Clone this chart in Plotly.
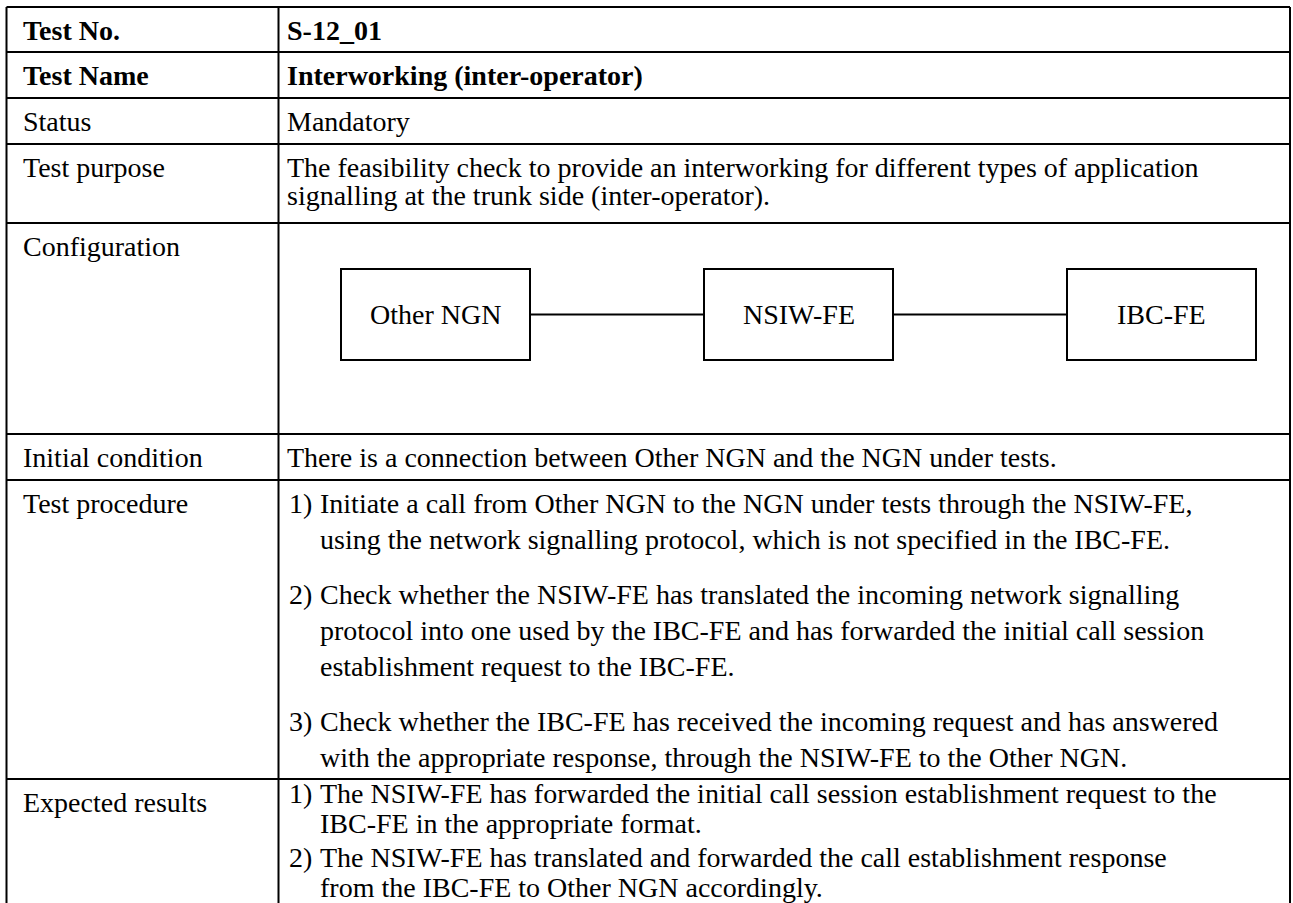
import plotly.graph_objects as go

# ---------------- data ----------------
row_labels = ["Test No.", "Test Name", "Status", "Test purpose", "Configuration",
              "Initial condition", "Test procedure", "Expected results"]
bold_labels = [True, True, False, False, False, False, False, False]

test_no = "S-12_01"
test_name = "Interworking (inter-operator)"
status = "Mandatory"
purpose_lines = ["The feasibility check to provide an interworking for different types of application",
                 "signalling at the trunk side (inter-operator)."]
config_nodes = ["Other NGN", "NSIW-FE", "IBC-FE"]
initial_condition = "There is a connection between Other NGN and the NGN under tests."
procedure_steps = [
    ["Initiate a call from Other NGN to the NGN under tests through the NSIW-FE,",
     "using the network signalling protocol, which is not specified in the IBC-FE."],
    ["Check whether the NSIW-FE has translated the incoming network signalling",
     "protocol into one used by the IBC-FE and has forwarded the initial call session",
     "establishment request to the IBC-FE."],
    ["Check whether the IBC-FE has received the incoming request and has answered",
     "with the appropriate response, through the NSIW-FE to the Other NGN."],
]
expected_steps = [
    ["The NSIW-FE has forwarded the initial call session establishment request to the",
     "IBC-FE in the appropriate format."],
    ["The NSIW-FE has translated and forwarded the call establishment response",
     "from the IBC-FE to Other NGN accordingly."],
]

# ---------------- layout geometry ----------------
W, H = 1293, 903
FONT = "Liberation Serif"
FS = 28
TOP_PAD = 33       # row top -> first baseline
row_edges = [7, 52, 98, 144, 223, 434, 480, 779, 920]
col_x = [6.5, 278.5, 1290]
LBL_X = 21
VAL_X = 285
NUM_X = 287
HANG_X = 318

fig = go.Figure()
shapes = []
annots = []

def txt(x, baseline, s, bold=False, anchor="left", size=FS):
    t = f"<b>{s}</b>" if bold else s
    annots.append(dict(x=x, y=baseline - 0.34 * size, xref="x", yref="y", text=t,
                       showarrow=False, xanchor=anchor, yanchor="middle",
                       font=dict(family=FONT, size=size, color="#000000")))

def line(x0, y0, x1, y1, w=2):
    shapes.append(dict(type="line", x0=x0, y0=y0, x1=x1, y1=y1, xref="x", yref="y",
                       line=dict(color="#000000", width=w)))

# table grid
for y in row_edges[:-1]:
    line(col_x[0], y, col_x[-1], y)
for x in col_x:
    line(x, row_edges[0], x, row_edges[-1])

# left column labels
for i, lab in enumerate(row_labels):
    txt(LBL_X, row_edges[i] + TOP_PAD, lab, bold=bold_labels[i])

# right column simple values
txt(VAL_X, row_edges[0] + TOP_PAD, test_no, bold=True)
txt(VAL_X, row_edges[1] + TOP_PAD, test_name, bold=True)
txt(VAL_X, row_edges[2] + TOP_PAD, status)
for k, s in enumerate(purpose_lines):
    txt(VAL_X, row_edges[3] + TOP_PAD + k * 28, s)
txt(VAL_X, row_edges[5] + TOP_PAD, initial_condition)

# configuration diagram
box_left0, box_w, box_step = 341, 189, 363
box_top, box_bot = 269, 360
mid = (box_top + box_bot) / 2
for i, name in enumerate(config_nodes):
    x0 = box_left0 + i * box_step
    shapes.append(dict(type="rect", x0=x0, y0=box_top, x1=x0 + box_w, y1=box_bot,
                       xref="x", yref="y", line=dict(color="#000000", width=2)))
    txt(x0 + box_w / 2, mid + 0.34 * FS, name, anchor="center")
    if i < len(config_nodes) - 1:
        line(x0 + box_w, mid, x0 + box_step, mid)

# numbered lists
def numbered(row_i, steps, first_pad, line_h, para_gap):
    b = row_edges[row_i] + first_pad
    for n, para in enumerate(steps):
        txt(NUM_X, b, f"{n + 1})")
        for s in para:
            txt(HANG_X, b, s)
            b += line_h
        b += para_gap

numbered(6, procedure_steps, 33, 36, 19)
numbered(7, expected_steps, 24, 30, 4)

fig.update_layout(
    width=W, height=H, margin=dict(l=0, r=0, t=0, b=0),
    paper_bgcolor="#ffffff", plot_bgcolor="#ffffff",
    xaxis=dict(range=[0, W], visible=False, fixedrange=True),
    yaxis=dict(range=[H, 0], visible=False, fixedrange=True),
    shapes=shapes, annotations=annots, showlegend=False,
)
fig.write_html("out.html", config={"displayModeBar": False},
               post_script="document.body.style.margin='0px';document.body.style.overflow='hidden';")
